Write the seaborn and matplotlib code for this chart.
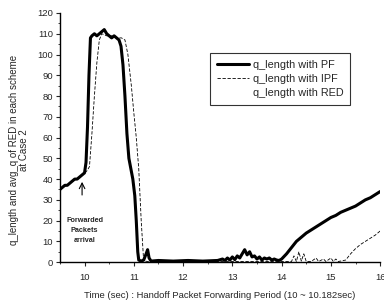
import numpy as np
import pandas as pd
import seaborn as sns
import matplotlib.pyplot as plt
from matplotlib.ticker import MultipleLocator

# q_length with PF (thick black)
pf_t = [9.5, 9.55, 9.6, 9.65, 9.7, 9.75, 9.8, 9.85, 9.9, 9.95, 10.0, 10.03, 10.06, 10.09,
        10.12, 10.15, 10.2, 10.25, 10.3, 10.35, 10.4, 10.45, 10.5, 10.55, 10.6, 10.65, 10.7,
        10.74, 10.78, 10.82, 10.86, 10.9, 10.94, 10.98, 11.02, 11.05, 11.08, 11.1, 11.15,
        11.2, 11.25, 11.28, 11.31, 11.35, 11.5, 11.8, 12.1, 12.4, 12.7,
        12.8, 12.85, 12.9, 12.95, 13.0, 13.05, 13.1, 13.15, 13.2, 13.25, 13.3, 13.35, 13.4,
        13.45, 13.5, 13.55, 13.6, 13.65, 13.7, 13.75, 13.8, 13.85, 13.9, 13.95,
        14.0, 14.1, 14.2, 14.3, 14.4, 14.5, 14.6, 14.7, 14.8, 14.9, 15.0, 15.1, 15.2, 15.3,
        15.4, 15.5, 15.6, 15.7, 15.8, 15.9, 16.0]
pf_q = [35, 36, 37, 37, 38, 39, 40, 40, 41, 42, 43, 48, 65, 90,
        108, 109, 110, 109, 110, 111, 112, 110, 109, 108, 109, 108, 107,
        104, 95, 80, 62, 50, 45, 40, 32, 20, 5, 1, 0.5,
        1, 4, 6, 2, 0.5, 0.8, 0.5, 0.8, 0.5, 0.8,
        1.5, 0.8, 2, 1, 2.5, 1.2, 3, 2, 4, 6, 3.5, 5, 2.5,
        3, 1.5, 2.5, 1, 2, 1.5, 2, 1, 1.5, 1, 0.8,
        1.5, 4, 7, 10, 12, 14, 15.5, 17, 18.5, 20, 21.5, 22.5, 24, 25,
        26, 27, 28.5, 30, 31, 32.5, 34]

# q_length with IPF (thin dashed)
ipf_t = [9.5, 9.7, 9.9, 10.0, 10.05, 10.1, 10.15, 10.2, 10.25, 10.3, 10.35, 10.45, 10.55,
         10.65, 10.75, 10.82, 10.88, 10.95, 11.0, 11.05, 11.1, 11.15, 11.2, 11.3, 12.0, 13.0,
         14.2, 14.25, 14.3, 14.35, 14.4, 14.45, 14.5, 14.6, 14.7, 14.75, 14.85, 14.9, 15.0,
         15.05, 15.1, 15.15, 15.3, 15.4, 15.5, 15.6, 15.7, 15.8, 15.9, 16.0]
ipf_q = [35, 38, 41, 43, 44, 46, 62, 80, 96, 107, 110, 109, 109,
         108, 108, 107, 100, 85, 72, 60, 45, 20, 0.5, 0.3, 0.3, 0.3,
         0.3, 3, 0.3, 5, 0.5, 4, 0.3, 0.3, 2, 0.3, 1.5, 0.3, 2,
         0.3, 1.5, 0.3, 1, 4, 6.5, 8.5, 10, 11.5, 13, 15]

# q_length with RED (not visible in the plot area)
red_t = []
red_q = []

pf = pd.DataFrame({'t': pf_t, 'q': pf_q})
ipf = pd.DataFrame({'t': ipf_t, 'q': ipf_q})
red = pd.DataFrame({'t': red_t, 'q': red_q})

sns.set_style('ticks')
plt.rcParams['font.family'] = ['Liberation Sans', 'DejaVu Sans']

fig = plt.figure(figsize=(3.84, 3.02), dpi=100)
ax = fig.add_axes([0.156, 0.132, 0.834, 0.825])

sns.lineplot(x='t', y='q', data=pf, ax=ax, color='black', lw=2.2,
             label='q_length with PF')
sns.lineplot(x='t', y='q', data=ipf, ax=ax, color='black', lw=0.6,
             linestyle=(0, (4, 2)), label='q_length with IPF')
ax.plot(red['t'], red['q'], color='white', lw=0.6, label='q_length with RED')

ax.set_xlim(9.5, 16)
ax.set_ylim(0, 120)
ax.xaxis.set_major_locator(MultipleLocator(1))
ax.xaxis.set_minor_locator(MultipleLocator(0.5))
ax.yaxis.set_major_locator(MultipleLocator(10))
ax.yaxis.set_minor_locator(MultipleLocator(5))
ax.tick_params(which='major', direction='out', length=3, width=0.8, labelsize=6.8, pad=2)
ax.tick_params(axis='x', which='major', pad=5)
ax.tick_params(which='minor', direction='out', length=1.5, width=0.6)
sns.despine(ax=ax)
for s in ['left', 'bottom']:
    ax.spines[s].set_color('black')
    ax.spines[s].set_linewidth(1)

ax.set_xlabel('Time (sec) : Handoff Packet Forwarding Period (10 ~ 10.182sec)',
              fontsize=6.8, labelpad=6)
ax.set_ylabel('q_length and avg_q of RED in each scheme\nat Case 2',
              fontsize=7, linespacing=1.1)
ax.yaxis.set_label_coords(-0.095, 0.45)

ax.annotate('', xy=(9.95, 40), xytext=(9.95, 31),
            arrowprops=dict(arrowstyle='->', color='black', lw=0.8))
ax.text(10.0, 15, 'Forwarded\nPackets\narrival', fontsize=5.2, fontweight='bold',
        ha='center', va='center', linespacing=1.6)

leg = ax.legend(loc='upper left', bbox_to_anchor=(0.453, 0.86), fontsize=7.8,
                frameon=True, fancybox=False, handlelength=3.0, borderpad=0.6,
                labelspacing=0.4, handletextpad=0.3)
leg.get_frame().set_edgecolor('black')
leg.get_frame().set_linewidth(0.8)

fig.savefig('out.png', dpi=100)
